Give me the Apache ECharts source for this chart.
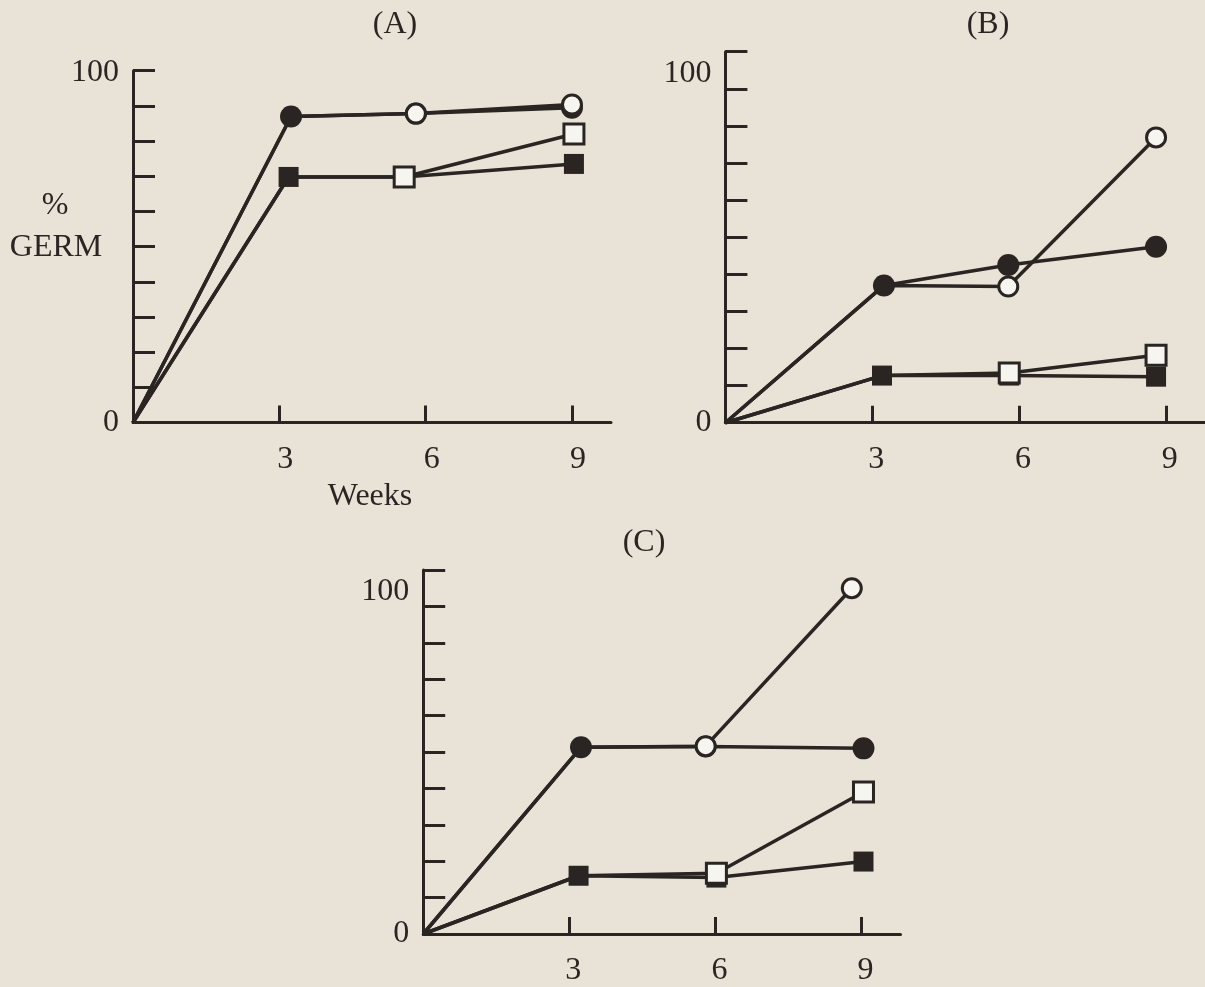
<!DOCTYPE html>
<html>
<head>
<meta charset="utf-8">
<script src="https://cdn.jsdelivr.net/npm/echarts@6/dist/echarts.min.js"></script>
<style>
  html, body { margin: 0; padding: 0; background: #e8e3d6; }
  #chart { width: 1205px; height: 987px; }
</style>
</head>
<body>
<div id="chart"></div>
<script>
// ---------- DATA (weeks, % germination) ----------
// Panel A
const A_filledCircle_x = [0, 3.24, 5.80, 9.00];
const A_filledCircle_y = [0, 87.0, 87.8, 89.5];
const A_openCircle_x   = [0, 3.24, 5.80, 9.00];
const A_openCircle_y   = [0, 87.0, 87.8, 90.4];
const A_filledSquare_x = [0, 3.19, 5.56, 9.04];
const A_filledSquare_y = [0, 69.8, 69.8, 73.5];
const A_openSquare_x   = [0, 3.19, 5.56, 9.04];
const A_openSquare_y   = [0, 69.8, 69.8, 82.0];
// Panel B
const B_filledCircle_x = [0, 3.24, 5.78, 8.80];
const B_filledCircle_y = [0, 37.0, 42.5, 47.4];
const B_openCircle_x   = [0, 3.24, 5.78, 8.80];
const B_openCircle_y   = [0, 37.0, 36.7, 76.9];
const B_filledSquare_x = [0, 3.20, 5.80, 8.80];
const B_filledSquare_y = [0, 12.7, 12.7, 12.4];
const B_openSquare_x   = [0, 3.20, 5.80, 8.80];
const B_openSquare_y   = [0, 12.7, 13.4, 18.2];
// Panel C
const C_filledCircle_x = [0, 3.24, 5.80, 9.04];
const C_filledCircle_y = [0, 51.3, 51.5, 51.0];
const C_openCircle_x   = [0, 3.24, 5.80, 8.80];
const C_openCircle_y   = [0, 51.3, 51.6, 95.0];
const C_filledSquare_x = [0, 3.19, 6.02, 9.04];
const C_filledSquare_y = [0, 16.0, 15.5, 19.9];
const C_openSquare_x   = [0, 3.19, 6.02, 9.04];
const C_openSquare_y   = [0, 16.0, 16.7, 39.0];

const panelTitles = ['(A)', '(B)', '(C)'];
const xTickLabels = ['3', '6', '9'];
const yTickLabels = ['0', '100'];
const xAxisTitle = 'Weeks';
const yAxisTitleTop = '%';
const yAxisTitleBottom = 'GERM';

// ---------- STYLE ----------
const INK = '#2a2523';
const BG = '#e8e3d6';
const FONT = '"Liberation Serif", "DejaVu Serif", serif';
const FS = 32;

const chart = echarts.init(document.getElementById('chart'), null, { renderer: 'canvas' });

const grids = [
  { left: 133, top: 70.7, width: 478, height: 351.8 },
  { left: 725.4, top: 51.7, width: 480, height: 371 },
  { left: 423.2, top: 570, width: 477.3, height: 366 }
];
const xLabelPad = [12, 8, 8];
const yTopLabelShift = [4, 44, 44];

function xAxisFor(i) {
  return {
    type: 'value', gridIndex: i, min: 0, max: 9.8, interval: 3,
    splitLine: { show: false },
    axisLine: { show: true, onZero: false, lineStyle: { color: INK, width: 3 } },
    axisTick: { show: true, inside: true, length: 17, lineStyle: { color: INK, width: 3 } },
    axisLabel: {
      show: true, margin: 21, color: INK, fontFamily: FONT, fontSize: FS,
      padding: [0, 0, 0, xLabelPad[i]],
      showMaxLabel: false,
      formatter: v => (xTickLabels.indexOf(String(v)) >= 0 ? String(v) : '')
    },
    name: i === 0 ? xAxisTitle : '',
    nameLocation: 'middle', nameGap: 58,
    nameTextStyle: { color: INK, fontFamily: FONT, fontSize: FS, padding: [0, 4, 0, 0] }
  };
}
function yAxisFor(i) {
  return {
    type: 'value', gridIndex: i, min: 0, max: 100, interval: 10,
    splitLine: { show: false },
    axisLine: { show: true, onZero: false, lineStyle: { color: INK, width: 3 } },
    axisTick: { show: true, inside: true, length: 22, lineStyle: { color: INK, width: 3 } },
    axisLabel: {
      show: true, margin: 14, color: INK, fontFamily: FONT, fontSize: FS,
      lineHeight: yTopLabelShift[i],
      formatter: v => (v === 100 ? '\n' + yTickLabels[1] : (v === 0 ? yTickLabels[0] : ''))
    }
  };
}

function makeSeries(gi, xs, ys, kind) {
  const filled = kind.indexOf('filled') === 0;
  const isCircle = kind.indexOf('Circle') > 0;
  const hideUpTo = filled ? 0 : 1;
  return {
    type: 'line', xAxisIndex: gi, yAxisIndex: gi,
    data: xs.map((x, k) => {
      const item = { value: [x, ys[k]] };
      if (k <= hideUpTo) item.symbol = 'none';
      return item;
    }),
    symbol: isCircle ? 'circle' : 'rect',
    symbolSize: isCircle ? (filled ? 22 : 19) : 20,
    showSymbol: true,
    clip: false,
    lineStyle: { color: INK, width: 3.5 },
    itemStyle: filled
      ? { color: INK, borderColor: INK, borderWidth: 0 }
      : { color: '#f7f5f0', borderColor: INK, borderWidth: 3 },
    z: filled ? 2 : 3,
    silent: true,
    animation: false
  };
}

const panels = [
  [A_filledSquare_x, A_filledSquare_y, A_openSquare_x, A_openSquare_y, A_filledCircle_x, A_filledCircle_y, A_openCircle_x, A_openCircle_y],
  [B_filledSquare_x, B_filledSquare_y, B_openSquare_x, B_openSquare_y, B_filledCircle_x, B_filledCircle_y, B_openCircle_x, B_openCircle_y],
  [C_filledSquare_x, C_filledSquare_y, C_openSquare_x, C_openSquare_y, C_filledCircle_x, C_filledCircle_y, C_openCircle_x, C_openCircle_y]
];
const kinds = ['filledSquare', 'openSquare', 'filledCircle', 'openCircle'];

const series = [];
panels.forEach((p, gi) => {
  kinds.forEach((k, j) => series.push(makeSeries(gi, p[2 * j], p[2 * j + 1], k)));
});

const txt = (text, x, y) => ({
  type: 'text', x, y, silent: true,
  style: { text, fill: INK, font: FS + 'px ' + FONT, textAlign: 'center', textVerticalAlign: 'middle' }
});

chart.setOption({
  backgroundColor: BG,
  animation: false,
  grid: grids,
  xAxis: [0, 1, 2].map(xAxisFor),
  yAxis: [0, 1, 2].map(yAxisFor),
  series,
  graphic: [
    txt(panelTitles[0], 395, 25),
    txt(panelTitles[1], 988, 25),
    txt(panelTitles[2], 644, 543),
    txt(yAxisTitleTop, 55, 206),
    txt(yAxisTitleBottom, 56, 248)
  ]
});
</script>
</body>
</html>
